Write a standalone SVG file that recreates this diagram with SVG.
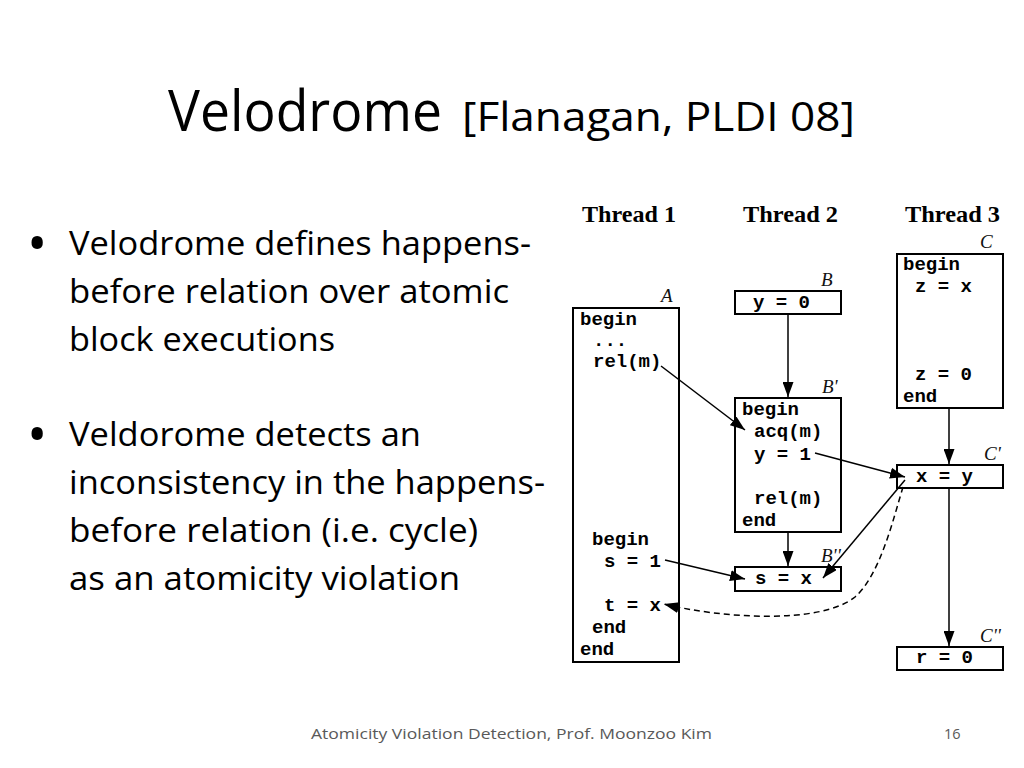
<svg xmlns="http://www.w3.org/2000/svg" width="1024" height="768" viewBox="0 0 1024 768">
<style>
.sans{font-family:"Open Sans","Noto Sans","Liberation Sans",sans-serif;fill:#000}
.title{font-size:56px}
.sub{font-size:40px}
.bul{font-size:33px}
.dot{font-family:"Open Sans","Noto Sans","Liberation Sans",sans-serif;font-size:54px;fill:#000}
.foot{font-family:"Open Sans","Liberation Sans",sans-serif;font-size:14.5px;fill:#595959}
.hdr{font-family:"Liberation Serif","Times New Roman",serif;font-weight:bold;font-size:24px;fill:#000}
.lbl{font-family:"Liberation Serif","Times New Roman",serif;font-style:italic;font-size:19px;fill:#111}
.code{font-family:"Liberation Mono","Courier New",monospace;font-weight:bold;font-size:19px;fill:#000;white-space:pre}
.box{fill:#fff;stroke:#000;stroke-width:2}
.edge{fill:none;stroke:#000;stroke-width:1.5}
.dash{stroke-dasharray:6 4}
</style>
<defs>
<marker id="ah" markerUnits="userSpaceOnUse" viewBox="0 0 15 11" refX="15" refY="5.5" markerWidth="15" markerHeight="11" orient="auto">
<path d="M0,0 L15,5.5 L0,11 z" fill="#000" stroke="none"/>
</marker>
</defs>
<rect width="1024" height="768" fill="#fff"/>

<g id="title">
<text class="sans title" x="168" y="131" textLength="274" lengthAdjust="spacingAndGlyphs">Velodrome</text>
<text class="sans sub" x="462" y="131" textLength="393" lengthAdjust="spacingAndGlyphs">[Flanagan, PLDI 08]</text>
</g>

<g id="bullets">
<text class="dot" x="27" y="263">•</text>
<text class="sans bul" x="69" y="255" textLength="462" lengthAdjust="spacingAndGlyphs">Velodrome defines happens-</text>
<text class="sans bul" x="69" y="303" textLength="440" lengthAdjust="spacingAndGlyphs">before relation over atomic</text>
<text class="sans bul" x="69" y="351" textLength="266" lengthAdjust="spacingAndGlyphs">block executions</text>
<text class="dot" x="27" y="454">•</text>
<text class="sans bul" x="69" y="446" textLength="352" lengthAdjust="spacingAndGlyphs">Veldorome detects an</text>
<text class="sans bul" x="69" y="494" textLength="476" lengthAdjust="spacingAndGlyphs">inconsistency in the happens-</text>
<text class="sans bul" x="69" y="542" textLength="409" lengthAdjust="spacingAndGlyphs">before relation (i.e. cycle)</text>
<text class="sans bul" x="69" y="590" textLength="391" lengthAdjust="spacingAndGlyphs">as an atomicity violation</text>
</g>

<g id="headers">
<text class="hdr" x="582" y="222" textLength="94" lengthAdjust="spacingAndGlyphs">Thread 1</text>
<text class="hdr" x="743" y="222" textLength="95" lengthAdjust="spacingAndGlyphs">Thread 2</text>
<text class="hdr" x="905" y="222" textLength="95" lengthAdjust="spacingAndGlyphs">Thread 3</text>
</g>

<g id="node-A">
<rect class="box" x="573" y="308" width="106" height="354"/>
<text class="lbl" x="661" y="302">A</text>
<text class="code" x="580" y="325">begin</text>
<text class="code" x="593" y="346">...</text>
<text class="code" x="593" y="367">rel(m)</text>
<text class="code" x="592" y="545">begin</text>
<text class="code" x="604" y="567">s = 1</text>
<text class="code" x="604" y="611">t = x</text>
<text class="code" x="592" y="633">end</text>
<text class="code" x="580" y="655">end</text>
</g>

<g id="node-B">
<rect class="box" x="735" y="291" width="106" height="23"/>
<text class="lbl" x="821" y="286">B</text>
<text class="code" x="753" y="308">y = 0</text>
</g>

<g id="node-B1">
<rect class="box" x="735" y="398" width="106" height="134"/>
<text class="lbl" x="822" y="393">B'</text>
<text class="code" x="742" y="415">begin</text>
<text class="code" x="754" y="437">acq(m)</text>
<text class="code" x="754" y="460">y = 1</text>
<text class="code" x="754" y="504">rel(m)</text>
<text class="code" x="742" y="526">end</text>
</g>

<g id="node-B2">
<rect class="box" x="735" y="567" width="106" height="24"/>
<text class="lbl" x="821" y="562">B''</text>
<text class="code" x="755" y="584">s = x</text>
</g>

<g id="node-C">
<rect class="box" x="897" y="254" width="106" height="154"/>
<text class="lbl" x="980" y="248">C</text>
<text class="code" x="903" y="270">begin</text>
<text class="code" x="915" y="292">z = x</text>
<text class="code" x="915" y="380">z = 0</text>
<text class="code" x="903" y="402">end</text>
</g>

<g id="node-C1">
<rect class="box" x="897" y="465" width="106" height="23"/>
<text class="lbl" x="984" y="460">C'</text>
<text class="code" x="916" y="482">x = y</text>
</g>

<g id="node-C2">
<rect class="box" x="897" y="647" width="106" height="23"/>
<text class="lbl" x="980" y="642">C''</text>
<text class="code" x="916" y="663">r = 0</text>
</g>

<g id="connectors">
<line class="edge" x1="788" y1="315" x2="788" y2="397" marker-end="url(#ah)"/>
<line class="edge" x1="788" y1="533" x2="788" y2="566" marker-end="url(#ah)"/>
<line class="edge" x1="949" y1="409" x2="949" y2="464" marker-end="url(#ah)"/>
<line class="edge" x1="949" y1="489" x2="949" y2="646" marker-end="url(#ah)"/>
<line class="edge" x1="661" y1="366" x2="745" y2="430" marker-end="url(#ah)"/>
<line class="edge" x1="815" y1="453" x2="905" y2="477" marker-end="url(#ah)"/>
<line class="edge" x1="665" y1="560" x2="745" y2="579" marker-end="url(#ah)"/>
<line class="edge" x1="905" y1="480" x2="823" y2="578" marker-end="url(#ah)"/>
<path class="edge dash" d="M 903 487 C 893 520, 880 575, 855 597 C 820 625, 720 618, 664 604" marker-end="url(#ah)"/>
</g>

<g id="footer">
<text class="foot" x="311" y="739" textLength="401" lengthAdjust="spacingAndGlyphs">Atomicity Violation Detection, Prof. Moonzoo Kim</text>
<text class="foot" x="944" y="739">16</text>
</g>
</svg>
